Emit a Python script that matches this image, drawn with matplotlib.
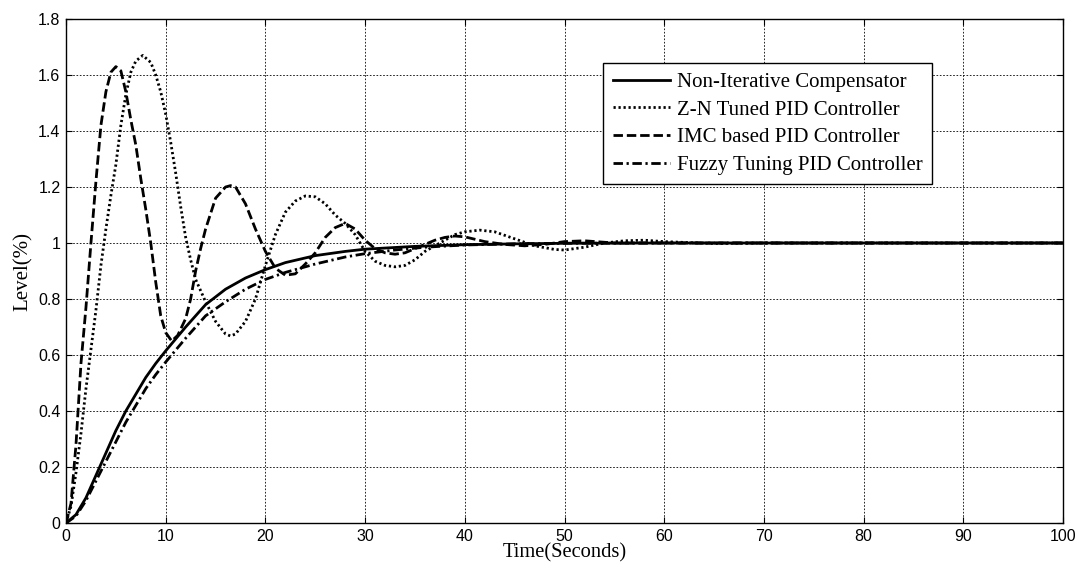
import numpy as np
import matplotlib
matplotlib.use('Agg')
import matplotlib.pyplot as plt

# Non-Iterative Compensator (solid)
t_nic = [0, 1, 2, 3, 4, 5, 6, 7, 8, 9, 10, 12, 14, 16, 18, 20, 22, 25, 28, 30, 35, 40, 45, 50, 60, 100]
y_nic = [0, 0.03, 0.09, 0.17, 0.25, 0.33, 0.40, 0.46, 0.52, 0.57, 0.615, 0.70, 0.78, 0.835, 0.875,
         0.905, 0.93, 0.955, 0.97, 0.978, 0.988, 0.994, 0.997, 0.999, 1.0, 1.0]

# Z-N tuned PID (dotted)
t_zn = [0, 0.5, 1, 1.5, 2, 2.5, 3, 3.5, 4, 4.5, 5, 5.5, 6, 6.5, 7, 7.7, 8.5, 9, 9.5, 10, 10.5, 11,
        11.5, 12, 12.5, 13, 13.5, 14, 15, 16, 16.5, 17, 18, 19, 20, 21, 22, 23, 24, 25, 26, 27, 28,
        29, 30, 31, 32, 33, 34, 35, 36, 37, 38, 39, 40, 41.5, 43, 45, 47, 49, 50, 52, 54, 56, 58,
        60, 65, 70, 100]
y_zn = [0, 0.06, 0.18, 0.32, 0.48, 0.62, 0.76, 0.92, 1.05, 1.17, 1.28, 1.42, 1.53, 1.61, 1.65, 1.67,
        1.645, 1.60, 1.54, 1.46, 1.36, 1.25, 1.13, 1.02, 0.94, 0.87, 0.83, 0.79, 0.72, 0.675, 0.668,
        0.675, 0.72, 0.80, 0.92, 1.03, 1.11, 1.15, 1.168, 1.165, 1.14, 1.10, 1.07, 1.03, 0.97, 0.935,
        0.92, 0.915, 0.92, 0.94, 0.97, 0.99, 1.01, 1.03, 1.04, 1.046, 1.04, 1.015, 0.99, 0.977, 0.975,
        0.985, 1.0, 1.008, 1.01, 1.005, 0.998, 1.0, 1.0]

# IMC based PID (dashed)
t_imc = [0, 0.5, 1, 1.5, 2, 2.5, 3, 3.5, 4, 4.5, 5, 5.5, 6, 6.5, 7, 7.5, 8, 8.5, 9, 9.5, 10, 10.6,
         11.2, 12, 12.5, 13, 13.5, 14, 15, 16, 16.5, 17, 18, 19, 20, 21, 22, 23, 24, 25, 26, 27, 28,
         29, 30, 31, 32, 33, 34, 35, 36, 37, 38, 39, 40, 42, 44, 46, 48, 50, 52, 55, 60, 70, 100]
y_imc = [0, 0.07, 0.28, 0.57, 0.77, 1.0, 1.22, 1.42, 1.54, 1.61, 1.63, 1.615, 1.54, 1.44, 1.35, 1.23,
         1.12, 1.0, 0.86, 0.74, 0.68, 0.65, 0.67, 0.73, 0.80, 0.90, 0.98, 1.05, 1.16, 1.20, 1.205, 1.20,
         1.14, 1.05, 0.97, 0.91, 0.885, 0.89, 0.925, 0.965, 1.02, 1.055, 1.07, 1.05, 1.01, 0.98, 0.965,
         0.96, 0.965, 0.98, 0.995, 1.01, 1.02, 1.025, 1.022, 1.005, 0.995, 0.99, 0.995, 1.005, 1.008,
         1.0, 1.0, 1.0, 1.0]

# Fuzzy tuning PID (dash-dot)
t_fz = [0, 1, 2, 3, 4, 5, 6, 7, 8, 9, 10, 12, 14, 16, 18, 20, 22, 25, 28, 30, 33, 36, 40, 45, 50, 60, 100]
y_fz = [0, 0.025, 0.08, 0.15, 0.22, 0.29, 0.36, 0.42, 0.48, 0.53, 0.575, 0.66, 0.74, 0.79, 0.835,
        0.87, 0.895, 0.925, 0.95, 0.962, 0.975, 0.985, 0.993, 0.997, 0.999, 1.0, 1.0]

x_ticks = np.arange(0, 101, 10)
y_ticks = np.round(np.arange(0, 1.81, 0.2), 1)

fig = plt.figure(figsize=(10.77, 5.69), dpi=100)
ax = fig.add_axes([0.0613, 0.0808, 0.9257, 0.8858])

lw = 2.0
ax.plot(t_nic, y_nic, color='black', lw=lw, linestyle='-', label='Non-Iterative Compensator')
ax.plot(t_zn, y_zn, color='black', lw=lw, linestyle=(0, (0.8, 1.0)), label='Z-N Tuned PID Controller')
ax.plot(t_imc, y_imc, color='black', lw=lw, linestyle=(0, (3.4, 1.4)), label='IMC based PID Controller')
ax.plot(t_fz, y_fz, color='black', lw=lw, linestyle=(0, (3.4, 1.3, 0.8, 1.3)), label='Fuzzy Tuning PID Controller')

ax.set_xlim(0, 100)
ax.set_ylim(0, 1.8)
ax.set_xticks(x_ticks)
ax.set_yticks(y_ticks)
ax.set_xticklabels([str(v) for v in x_ticks], family='Liberation Sans', fontsize=11.5)
ax.set_yticklabels(['0'] + [f'{v:g}' for v in y_ticks[1:]], family='Liberation Sans', fontsize=11.5)
ax.tick_params(direction='in', length=4, width=0.8, top=True, right=True, pad=4)

ax.grid(True, color='black', linestyle=(0, (2, 2)), linewidth=0.6)
for s in ax.spines.values():
    s.set_linewidth(1.0)

ax.set_xlabel('Time(Seconds)', family='Liberation Serif', fontsize=14.8, labelpad=0)
ax.set_ylabel('Level(%)', family='Liberation Serif', fontsize=15, labelpad=4)

leg = ax.legend(loc='upper left', bbox_to_anchor=(0.539, 0.913), prop={'family': 'Liberation Serif', 'size': 15},
                fancybox=False, framealpha=1, edgecolor='black', labelspacing=0.39,
                handlelength=2.75, handletextpad=0.35, borderpad=0.45, borderaxespad=0)
leg.get_frame().set_linewidth(1.0)

fig.savefig('out.png', dpi=100)
